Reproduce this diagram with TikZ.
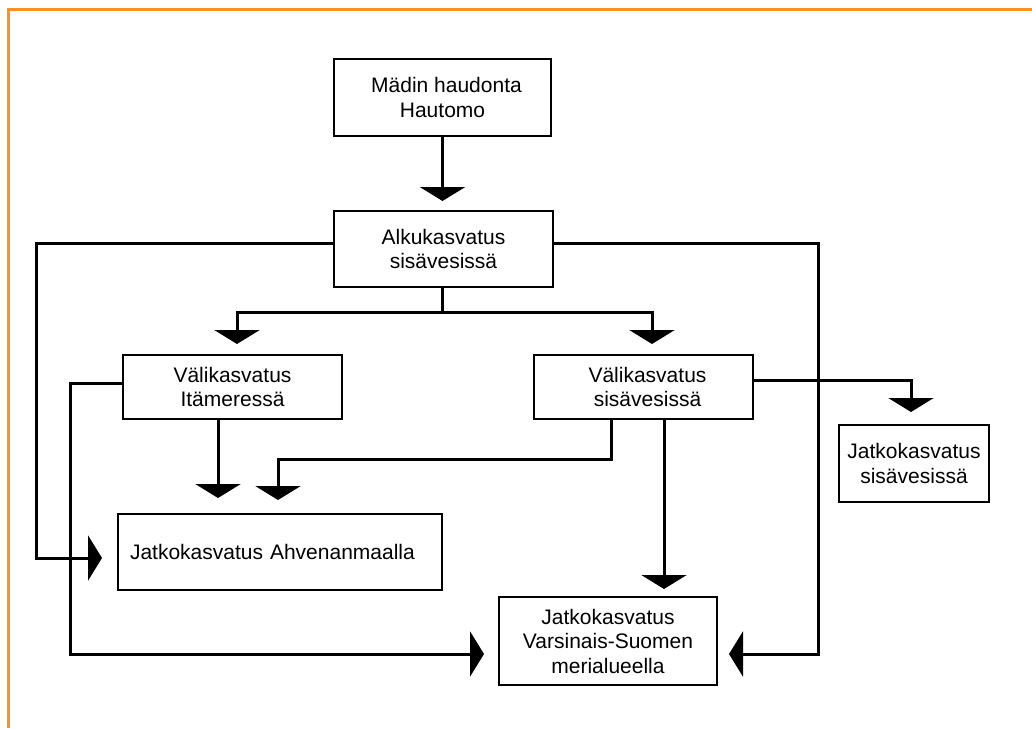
\documentclass[tikz,border=0pt]{standalone}
\usepackage{fontspec}
\setmainfont{Liberation Sans}
\usetikzlibrary{arrows.meta,calc}
\definecolor{frameorange}{HTML}{F7941D}
\begin{document}
\begin{tikzpicture}[x=1pt,y=-1pt,
  box/.style={draw=black,line width=2pt,inner sep=0pt,align=center,
    font=\fontsize{21}{24.5}\selectfont},
  conn/.style={line width=3pt,-{Triangle[length=14pt,width=45pt]}},
  plain/.style={line width=3pt}]
\useasboundingbox (0,0) rectangle (1032,728);
\fill[white] (0,0) rectangle (1032,728);
\draw[frameorange,line width=3pt] (8.7,728) -- (8.7,9.5) -- (1032,9.5);

\node[box,minimum width=217pt,minimum height=77pt] (b1) at (442.5,97.5) {\hspace*{8pt}Mädin haudonta\\Hautomo};
\node[box,minimum width=219pt,minimum height=76pt] (b2) at (443.5,249) {Alkukasvatus\\sisävesissä};
\node[box,minimum width=219pt,minimum height=64pt] (b3) at (232.5,387) {Välikasvatus\\Itämeressä};
\node[box,minimum width=219pt,minimum height=64pt] (b4) at (643.5,387) {\hspace*{8pt}Välikasvatus\\\hspace*{8pt}sisävesissä};
\node[box,minimum width=150pt,minimum height=77pt] (b5) at (914,463.5) {Jatkokasvatus\\sisävesissä};
\node[box,text width=300pt,inner xsep=12pt,align=left,minimum height=76pt] (b6) at (280,552) {Jatkokasvatus Ahvenanmaalla};
\node[box,minimum width=218pt,minimum height=88pt] (b7) at (608,641) {Jatkokasvatus\\Varsinais-Suomen\\merialueella};

% b1 -> b2
\draw[conn,shorten >=9pt] (b1.south) -- (b1.south |- b2.north);
% b2 left -> b6
\draw[conn,shorten >=15pt] ([yshift=6pt]b2.west) -- (36,243) |- ([yshift=-6pt]b6.west);
% b2 right -> b7
\draw[conn,shorten >=11pt] ([yshift=6pt]b2.east) -- (818,243) |- ([yshift=-13pt]b7.east);
% b2 bottom -> b3, b4
\draw[conn,shorten >=10pt] ([xshift=-1.5pt]b2.south) -- ++(0,24) -| ([xshift=8.5pt]b4.north);
\draw[conn,shorten >=10pt] ([xshift=-1.5pt]b2.south) -- ++(0,24) -| ([xshift=4.5pt]b3.north);
% b3 left -> b7
\draw[conn,shorten >=14pt] ([yshift=4pt]b3.west) -- (70,383) |- ([yshift=-13pt]b7.west);
% b3 bottom -> b6
\draw[conn,shorten >=15pt] ([xshift=-14.5pt]b3.south) -- ([xshift=-14.5pt]b3.south |- b6.north);
% b4 bottom -> b6
\draw[conn,shorten >=13pt] ([xshift=-32.5pt]b4.south) -- (611,459) -| ([xshift=-2pt]b6.north);
% b4 bottom -> b7
\draw[conn,shorten >=7pt] ([xshift=20.5pt]b4.south) -- ([xshift=20.5pt]b4.south |- b7.north);
% b4 right -> b5
\draw[conn,shorten >=12pt] ([yshift=7pt]b4.east) -| ([xshift=-3pt]b5.north);
\end{tikzpicture}
\end{document}
